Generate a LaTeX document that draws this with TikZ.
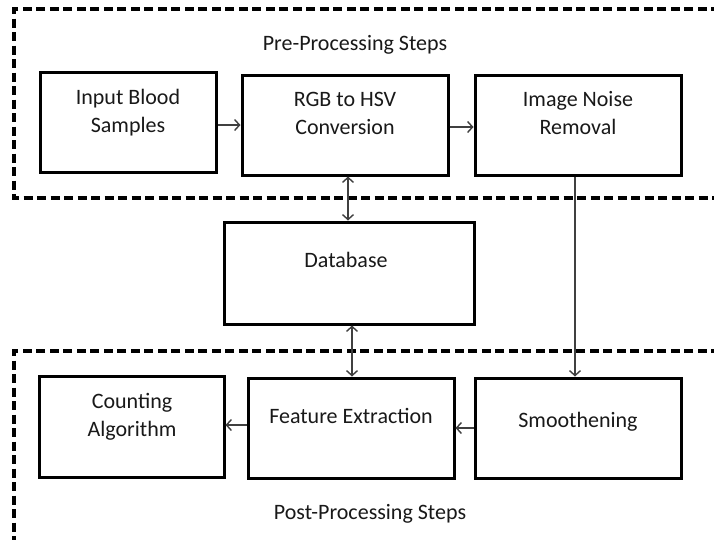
\documentclass[tikz,border=0pt]{standalone}
\usepackage{fontspec}
\setmainfont{Carlito}
\usetikzlibrary{arrows.meta}
\begin{document}
\begin{tikzpicture}[x=1pt,y=-1pt,
  box/.style={draw=black,line width=3pt,inner sep=0pt},
  txt/.style={font=\fontsize{22}{28}\selectfont,text=black!90,align=center,inner sep=0pt,anchor=base},
  arr/.style={draw=black!75,line width=1.4pt,-{Straight Barb[length=5pt,width=11pt,line width=1.4pt]}},
  darr/.style={draw=black!75,line width=1.4pt,{Straight Barb[length=5pt,width=11pt,line width=1.4pt]}-{Straight Barb[length=5pt,width=11pt,line width=1.4pt]}},
  grpline/.style={draw=black,line width=3.2pt,dash pattern=on 9pt off 4.5pt}]
\useasboundingbox (0,0) rectangle (714,539);
\fill[white] (0,0) rectangle (714,539);
% dashed groups
\coordinate (t1) at (720,9); \coordinate (t2) at (14,9); \coordinate (t3) at (14,198); \coordinate (t4) at (720,198);
\draw[grpline] (t1) -- (t2) -- (t3) -- (t4);
\coordinate (b1) at (720,351); \coordinate (b2) at (14,351); \coordinate (b3) at (14,545);
\draw[grpline] (b1) -- (b2) -- (b3);
% boxes
\node[box,minimum width=176pt,minimum height=100pt] (inp) at (128,122) {};
\node[box,minimum width=206pt,minimum height=100pt] (rgb) at (345,125) {};
\node[box,minimum width=206pt,minimum height=100pt] (inr) at (578,125) {};
\node[box,minimum width=250pt,minimum height=102pt] (db) at (349,273) {};
\node[box,minimum width=185pt,minimum height=101pt] (ca) at (131.5,426.5) {};
\node[box,minimum width=206pt,minimum height=100pt] (fe) at (351,428) {};
\node[box,minimum width=206pt,minimum height=100pt] (sm) at (578,428) {};
% texts
\node[txt] (tpre) at (355,50) {Pre-Processing Steps};
\node[txt] (tinp) at (128,132) {Input Blood\\Samples};
\node[txt] (trgb) at (345,134) {RGB to HSV\\Conversion};
\node[txt] (tinr) at (578,134) {Image Noise\\Removal};
\node[txt] (tdb) at (346,267) {Database};
\node[txt] (tca) at (132,436) {Counting\\Algorithm};
\node[txt] (tfe) at (351,423) {Feature Extraction};
\node[txt] (tsm) at (578,427) {Smoothening};
\node[txt] (tpost) at (370,519) {Post-Processing Steps};
% arrows
\draw[arr] (inp.east |- rgb.west) -- (rgb.west);
\draw[arr] (rgb.east |- 0,127) -- (inr.west |- 0,127);
\draw[arr] (inr.south -| 575,0) -- (sm.north -| 575,0);
\draw[darr] (rgb.south -| 348,0) -- (db.north -| 348,0);
\draw[darr] (db.south -| 352,0) -- (fe.north -| 352,0);
\draw[arr] (sm.west) -- (fe.east);
\draw[arr] (fe.west |- 0,425) -- (ca.east |- 0,425);
\end{tikzpicture}
\end{document}
